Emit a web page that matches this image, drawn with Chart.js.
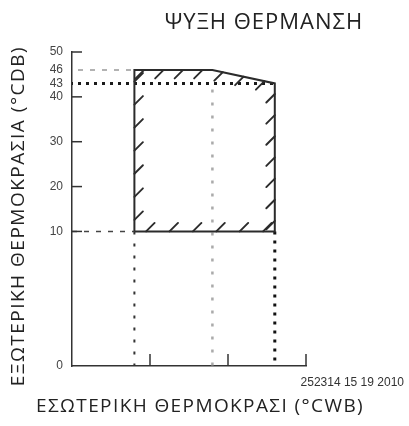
<!DOCTYPE html>
<html>
<head>
<meta charset="utf-8">
<script src="https://cdn.jsdelivr.net/npm/chart.js@4"></script>
<style>
  html, body { margin: 0; padding: 0; background: #fff; }
  #wrap { width: 409px; height: 426px; position: relative; }
</style>
</head>
<body>
<div id="wrap"><canvas id="envChart"></canvas></div>
<script>
// όρια λειτουργίας (x = °CWB, y = °CDB)
const envX = [8, 8, 18, 26, 26, 8];
const envY = [10, 46, 46, 43, 10, 10];

// βοηθητικές γραμμές
const line46X = [0, 8],   line46Y = [46, 46];
const line43X = [0, 26],  line43Y = [43, 43];
const line10X = [0, 8],   line10Y = [10, 10];
const vert8X  = [8, 8],   vert8Y  = [10, 0];
const vert18X = [18, 18], vert18Y = [43, 0];
const vert26X = [26, 26], vert26Y = [10, 0];

const yTickValues = [0, 10, 20, 30, 40, 43, 46, 50];
const yMarkTicks = [10, 20, 30, 40, 50];
const xMarkTicks = [10, 20, 30];

const titleTop = "ΨΥΞΗ ΘΕΡΜΑΝΣΗ";
const titleY = "ΕΞΩΤΕΡΙΚΗ ΘΕΡΜΟΚΡΑΣΙΑ (°CDB)";
const titleX = "ΕΣΩΤΕΡΙΚΗ ΘΕΡΜΟΚΡΑΣΙ (°CWB)";
const figId = "252314 15 19 2010";

// ο άξονας y είναι "σπασμένος": το 0-10 πιάνει τριπλάσιο ύψος
function yAxis(v) { return v >= 10 ? v : 10 - (10 - v) * 3; }
function yLabel(a) { return a >= 10 ? a : Math.round(10 - (10 - a) / 3); }

function pts(xs, ys) { return xs.map((x, i) => ({ x: x, y: yAxis(ys[i]) })); }

function lineSet(xs, ys, color, width, dash, offset) {
  return {
    data: pts(xs, ys),
    borderColor: color,
    borderWidth: width,
    borderDash: dash,
    borderDashOffset: offset || 0,
    pointRadius: 0,
    fill: false,
    tension: 0
  };
}

// μικρές γραμμές διαγράμμισης στο εσωτερικό των ορίων
const hatchPlugin = {
  id: "hatch",
  afterDatasetsDraw(chart) {
    const meta = chart.getDatasetMeta(0);
    const p = meta.data.map(e => ({ x: e.x, y: e.y }));
    const cx = p.slice(0, -1).reduce((s, q) => s + q.x, 0) / (p.length - 1);
    const cy = p.slice(0, -1).reduce((s, q) => s + q.y, 0) / (p.length - 1);
    const ctx = chart.ctx;
    const d = 8.5;
    ctx.save();
    ctx.strokeStyle = "#2b2b2b";
    ctx.lineWidth = 1.9;
    ctx.lineCap = "round";
    for (let i = 0; i < p.length - 1; i++) {
      const a = p[i], b = p[i + 1];
      const len = Math.hypot(b.x - a.x, b.y - a.y);
      const n = Math.max(1, Math.round(len / 22));
      let nx = -(b.y - a.y) / len, ny = (b.x - a.x) / len;
      const mx = (a.x + b.x) / 2, my = (a.y + b.y) / 2;
      if (nx * (cx - mx) + ny * (cy - my) < 0) { nx = -nx; ny = -ny; }
      const inward = (nx - ny) > 0;
      for (let k = 0; k < n; k++) {
        const t = (k + 0.5) / n;
        const px = a.x + (b.x - a.x) * t, py = a.y + (b.y - a.y) * t;
        ctx.beginPath();
        if (inward) { ctx.moveTo(px, py); ctx.lineTo(px + d, py - d); }
        else { ctx.moveTo(px - d, py + d); ctx.lineTo(px, py); }
        ctx.stroke();
      }
    }
    ctx.restore();
  }
};

// υποδιαιρέσεις προς τα μέσα + κείμενα
const framePlugin = {
  id: "frame",
  afterDraw(chart) {
    const ctx = chart.ctx;
    const xs = chart.scales.x, ys = chart.scales.y;
    const area = chart.chartArea;
    ctx.save();
    ctx.strokeStyle = "#333";
    ctx.lineWidth = 1.5;
    yMarkTicks.forEach(v => {
      const py = ys.getPixelForValue(yAxis(v));
      ctx.beginPath(); ctx.moveTo(area.left, py); ctx.lineTo(area.left + 10, py); ctx.stroke();
    });
    xMarkTicks.forEach(v => {
      const px = xs.getPixelForValue(v);
      ctx.beginPath(); ctx.moveTo(px, area.bottom); ctx.lineTo(px, area.bottom - 12); ctx.stroke();
    });

    ctx.fillStyle = "#222";
    ctx.font = "22px 'Open Sans'";
    ctx.letterSpacing = "1px";
    ctx.textAlign = "center";
    ctx.textBaseline = "alphabetic";
    ctx.fillText(titleTop, 264, 29);

    ctx.font = "19px 'Open Sans'";
    ctx.letterSpacing = "1.4px";
    ctx.textBaseline = "middle";
    ctx.fillText(titleX, 200, 407);

    ctx.save();
    ctx.translate(19, 216);
    ctx.rotate(-Math.PI / 2);
    ctx.letterSpacing = "1.5px";
    ctx.fillText(titleY, 0, 0);
    ctx.restore();

    ctx.letterSpacing = "0px";
    ctx.fillStyle = "#333";
    ctx.font = "12px 'Liberation Sans'";
    ctx.textAlign = "right";
    ctx.textBaseline = "alphabetic";
    ctx.fillText(figId, 404, 386);
    ctx.restore();
  }
};

const ctx = document.getElementById("envChart").getContext("2d");

new Chart(ctx, {
  type: "line",
  data: {
    datasets: [
      lineSet(envX, envY, "#2b2b2b", 2, []),
      lineSet(line46X, line46Y, "#999", 1.5, [5, 7], -6),
      lineSet(line43X, line43Y, "#1a1a1a", 3, [3, 5], -6),
      lineSet(line10X, line10Y, "#444", 1.5, [5, 7]),
      lineSet(vert8X, vert8Y, "#333", 2, [3, 9]),
      lineSet(vert18X, vert18Y, "#aaa", 2.5, [3, 10], -6),
      lineSet(vert26X, vert26Y, "#111", 3, [3, 6])
    ]
  },
  options: {
    responsive: true,
    maintainAspectRatio: false,
    animation: false,
    layout: { padding: { top: 52, right: 103, bottom: 60, left: 0 } },
    plugins: {
      legend: { display: false },
      tooltip: { enabled: false },
      title: { display: false }
    },
    scales: {
      x: {
        type: "linear",
        min: 0,
        max: 30,
        grid: { display: false },
        border: { display: true, color: "#333", width: 1.5 },
        ticks: { display: false },
        afterFit(s) { s.height = 0; }
      },
      y: {
        type: "linear",
        min: -20,
        max: 50,
        grid: { display: false, drawTicks: false },
        border: { display: true, color: "#333", width: 1.5 },
        afterBuildTicks(s) { s.ticks = yTickValues.map(v => ({ value: yAxis(v) })); },
        afterFit(s) { s.width = 72; },
        ticks: {
          autoSkip: false,
          padding: 9,
          color: "#444",
          font: { family: "'Liberation Sans'", size: 12 },
          callback: v => String(yLabel(v))
        }
      }
    }
  },
  plugins: [hatchPlugin, framePlugin]
});
</script>
</body>
</html>
